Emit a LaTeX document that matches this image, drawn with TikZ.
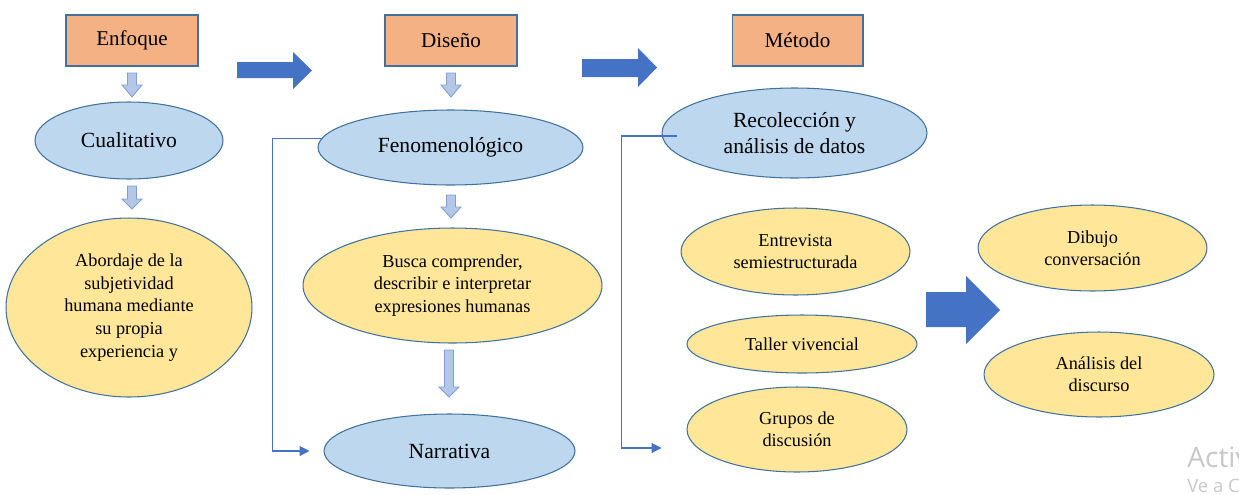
\documentclass[tikz,border=0pt]{standalone}
\usepackage{fontspec}
\setmainfont{Liberation Serif}
\newfontfamily\wmfont{Open Sans}
\usetikzlibrary{arrows.meta,shapes.geometric}
\definecolor{boxorange}{HTML}{F4B183}
\definecolor{edgeblue}{HTML}{41719C}
\definecolor{lightblue}{HTML}{BDD7EE}
\definecolor{softyellow}{HTML}{FFE699}
\definecolor{arrowblue}{HTML}{4472C4}
\definecolor{paleblue}{HTML}{B4C7E7}
\definecolor{paleedge}{HTML}{7F9FD4}
\definecolor{wmgray}{HTML}{C8C8C8}
\tikzset{
  headbox/.style={draw=edgeblue, fill=boxorange, line width=0.6pt, minimum width=2.64cm,
    minimum height=1.02cm, inner sep=0pt, font=\fontsize{12}{14}\selectfont},
  blueell/.style={ellipse, draw=edgeblue, fill=lightblue, line width=0.6pt, inner sep=0pt,
    align=center, font=\fontsize{12.3}{15}\selectfont},
  yellowell/.style={ellipse, draw=edgeblue, fill=softyellow, line width=0.6pt, inner sep=0pt,
    align=center, font=\fontsize{10.4}{12.6}\selectfont},
  bigarrow/.style={fill=arrowblue},
  smallarrow/.style={fill=paleblue, draw=paleedge, line width=0.5pt},
  link/.style={draw=arrowblue, line width=0.6pt},
}
\begin{document}
\begin{tikzpicture}[x=0.02cm, y=-0.02cm, >={Triangle[length=0.2cm, width=0.2cm]}]
\useasboundingbox (0,0) rectangle (1239,494);
% column headers
\node[headbox] (enfoque) at (132,40.5) {Enfoque};
\node[headbox] (diseno) at (451,40.5) {Diseño};
\node[headbox, minimum width=2.62cm] (metodo) at (797.5,40.5) {Método};
% first column
\node[blueell, minimum width=3.76cm, minimum height=1.54cm] (cuali) at (129,140.5) {Cualitativo};
\node[yellowell, minimum width=4.92cm, minimum height=3.58cm, font=\fontsize{10.4}{13}\selectfont] (abordaje) at (129,307.5)
  {Abordaje de la\\ subjetividad\\ humana mediante\\ su propia\\ experiencia y};
% second column
\node[blueell, minimum width=5.3cm, minimum height=1.5cm] (fenom) at (450.5,147.5) {Fenomenológico};
\node[yellowell, minimum width=5.98cm, minimum height=2.3cm] (busca) at (452.5,285.5)
  {Busca comprender,\\ describir e interpretar\\ expresiones humanas};
\node[blueell, minimum width=5.02cm, minimum height=1.48cm] (narrativa) at (449.5,451) {Narrativa};
% third column
\node[blueell, minimum width=5.3cm, minimum height=1.8cm] (recol) at (794.5,133)
  {Recolección y\\ análisis de datos};
\node[yellowell, minimum width=4.58cm, minimum height=1.74cm] (entrevista) at (795.5,251.5)
  {Entrevista\\ semiestructurada};
\node[yellowell, minimum width=4.6cm, minimum height=1.16cm] (taller) at (802,344) {Taller vivencial};
\node[yellowell, minimum width=4.4cm, minimum height=1.7cm] (grupos) at (797,429.5)
  {Grupos de\\ discusión};
% fourth column
\node[yellowell, minimum width=4.58cm, minimum height=1.72cm] (dibujo) at (1092.5,248)
  {Dibujo\\ conversación};
\node[yellowell, minimum width=4.6cm, minimum height=1.7cm] (discurso) at (1099,374.5)
  {Análisis del\\ discurso};
% block arrows
\fill[bigarrow] (237,62) -- (293,62) -- (293,52) -- (312,70.5) -- (293,89) -- (293,78) -- (237,78) -- cycle;
\fill[bigarrow] (582,59) -- (638,59) -- (638,48) -- (657,67.5) -- (638,87) -- (638,77) -- (582,77) -- cycle;
\fill[bigarrow] (926,292) -- (966,292) -- (966,276) -- (1000,310) -- (966,344) -- (966,327) -- (926,327) -- cycle;
\foreach \x/\ya/\yb/\yc in {132/73/85/97, 132/186/199/209, 451/73/85/97, 451/195/207/218, 449/350/387/397}
  \filldraw[smallarrow] (\x-4.5,\ya) -- (\x+4.5,\ya) -- (\x+4.5,\yb) -- (\x+10,\yb) -- (\x,\yc)
    -- (\x-10,\yb) -- (\x-4.5,\yb) -- cycle;
% brackets
\draw[link, ->] (fenom.176) -- ++(-49,0) |- ([xshift=-0.28cm]narrativa.west);
\draw[link, ->] ([shift={(0.3cm,-0.06cm)}]recol.west) -- ++(-55,0)
  |- ([shift={(-0.5cm,-0.37cm)}]grupos.west);
% watermark
\node[anchor=base west, inner sep=0pt, text=wmgray, font=\wmfont\fontsize{16}{18}\selectfont] (activ) at (1187,467) {Activ};
\node[anchor=base west, inner sep=0pt, text=wmgray, font=\wmfont\fontsize{10.5}{12}\selectfont] (vea) at (1187,492) {Ve a C};
\end{tikzpicture}
\end{document}
